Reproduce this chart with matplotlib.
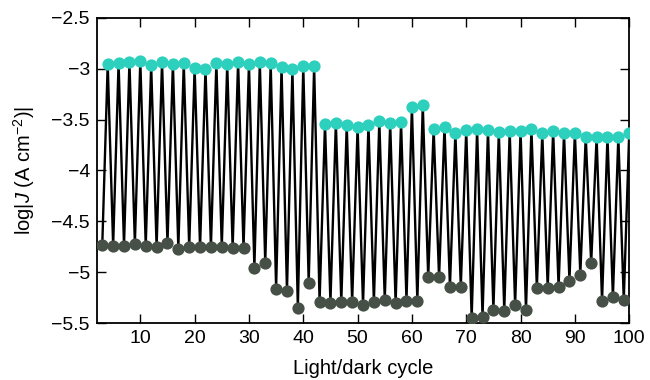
import matplotlib
matplotlib.use("Agg")
import matplotlib.pyplot as plt
from matplotlib.ticker import FuncFormatter
import numpy as np

plt.rcParams['font.family'] = ['Liberation Sans', 'DejaVu Sans']
plt.rcParams['mathtext.fontset'] = 'custom'
plt.rcParams['mathtext.rm'] = 'Liberation Sans'
plt.rcParams['mathtext.it'] = 'Liberation Sans:italic'

# Dark cycles (odd) and light cycles (even)
darkCycles = list(range(3, 100, 2))
lightCycles = list(range(4, 101, 2))

darkValues = [
    -4.73, -4.74, -4.74, -4.72, -4.74, -4.755, -4.716, -4.768, -4.755, -4.755,
    -4.75, -4.75, -4.762, -4.762, -4.958, -4.912, -5.162, -5.184, -5.351, -5.105,
    -5.289, -5.299, -5.292, -5.292, -5.319, -5.292, -5.273, -5.306, -5.279, -5.286,
    -5.05, -5.05, -5.142, -5.142, -5.453, -5.437, -5.371, -5.378, -5.325, -5.371,
    -5.155, -5.155, -5.148, -5.083, -5.024, -4.912, -5.286, -5.247, -5.273,
]
lightValues = [
    -2.952, -2.942, -2.933, -2.92, -2.965, -2.933, -2.952, -2.946, -2.99, -2.998,
    -2.942, -2.958, -2.93, -2.952, -2.936, -2.942, -2.988, -3.005, -2.978, -2.972,
    -3.542, -3.529, -3.555, -3.569, -3.549, -3.51, -3.535, -3.526, -3.372, -3.359,
    -3.595, -3.569, -3.628, -3.601, -3.595, -3.601, -3.621, -3.614, -3.608, -3.588,
    -3.634, -3.608, -3.634, -3.628, -3.667, -3.673, -3.667, -3.667, -3.634,
]

xTicks = [10, 20, 30, 40, 50, 60, 70, 80, 90, 100]
yTicks = [-2.5, -3, -3.5, -4, -4.5, -5, -5.5]

# Interleave the dark/light points into one trace
allX = np.empty(len(darkCycles) + len(lightCycles))
allY = np.empty_like(allX)
allX[0::2], allX[1::2] = darkCycles, lightCycles
allY[0::2], allY[1::2] = darkValues, lightValues

fig = plt.figure(figsize=(6.5, 3.8), dpi=100)
ax = fig.add_axes([0.149, 0.15, 0.819, 0.803])

ax.plot(allX, allY, color='black', lw=1.7, zorder=2)
ax.plot(darkCycles, darkValues, 'o', ms=8.8, color='#475047', mec='none', zorder=3)
ax.plot(lightCycles, lightValues, 'o', ms=8.8, color='#2dcfbd', mec='none', zorder=3)

ax.set_xlim(2, 100)
ax.set_ylim(-5.5, -2.5)
ax.set_xticks(xTicks)
ax.set_yticks(yTicks)

minusFmt = FuncFormatter(lambda v, pos: ('%g' % v).replace('-', '\u2212'))
ax.xaxis.set_major_formatter(minusFmt)
ax.yaxis.set_major_formatter(minusFmt)

ax.tick_params(direction='in', length=6.5, width=1, labelsize=14,
               top=True, right=True, pad=5)
for s in ax.spines.values():
    s.set_linewidth(1.3)

ax.set_xlabel('Light/dark cycle', fontsize=14.5, labelpad=9)
ax.set_ylabel(r'log|$J$ (A cm$^{-2}$)|', fontsize=14.5, labelpad=10)

fig.savefig('out.png', dpi=100)
